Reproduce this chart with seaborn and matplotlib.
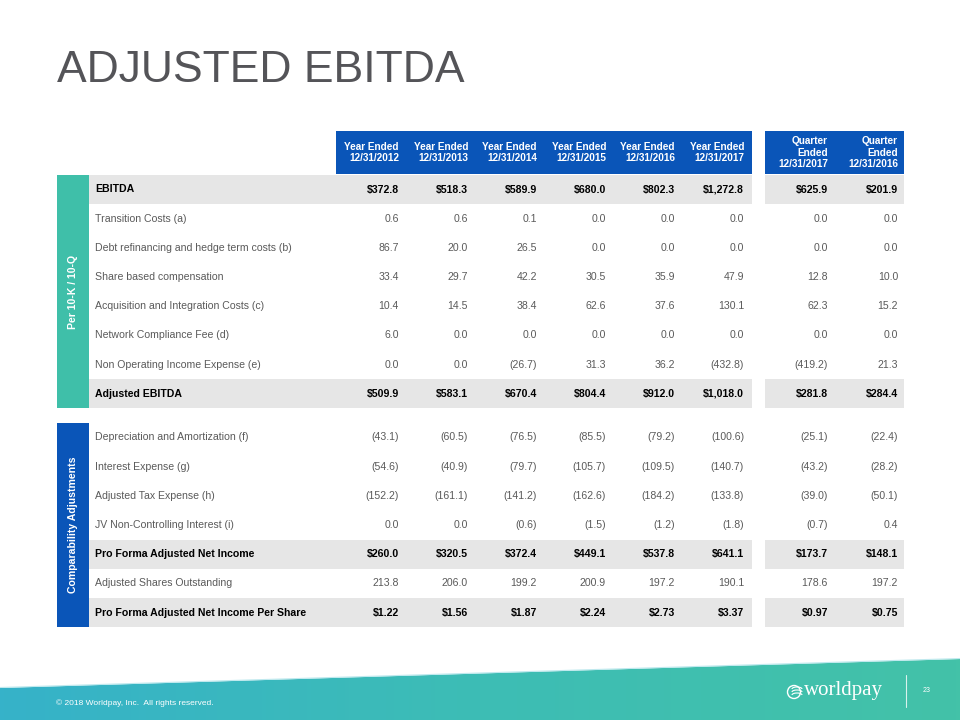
import numpy as np
import matplotlib.pyplot as plt
import seaborn as sns
from matplotlib.patches import Rectangle, Polygon, Circle, Arc

sns.set_style("white")
plt.rcParams['font.family'] = ['Liberation Sans', 'DejaVu Sans']

# --- data ---
col_headers = ["Year Ended\n12/31/2012", "Year Ended\n12/31/2013", "Year Ended\n12/31/2014",
               "Year Ended\n12/31/2015", "Year Ended\n12/31/2016", "Year Ended\n12/31/2017",
               "Quarter\nEnded\n12/31/2017", "Quarter\nEnded\n12/31/2016"]

top_labels = ["EBITDA", "Transition Costs (a)", "Debt refinancing and hedge term costs (b)",
              "Share based compensation", "Acquisition and Integration Costs (c)",
              "Network Compliance Fee (d)", "Non Operating Income Expense (e)", "Adjusted EBITDA"]
ebitda = [372.8, 518.3, 589.9, 680.0, 802.3, 1272.8, 625.9, 201.9]
transition = [0.6, 0.6, 0.1, 0.0, 0.0, 0.0, 0.0, 0.0]
debt_refi = [86.7, 20.0, 26.5, 0.0, 0.0, 0.0, 0.0, 0.0]
share_comp = [33.4, 29.7, 42.2, 30.5, 35.9, 47.9, 12.8, 10.0]
acquisition = [10.4, 14.5, 38.4, 62.6, 37.6, 130.1, 62.3, 15.2]
network_fee = [6.0, 0.0, 0.0, 0.0, 0.0, 0.0, 0.0, 0.0]
non_operating = [0.0, 0.0, -26.7, 31.3, 36.2, -432.8, -419.2, 21.3]
adj_ebitda = [509.9, 583.1, 670.4, 804.4, 912.0, 1018.0, 281.8, 284.4]

bottom_labels = ["Depreciation and Amortization (f)", "Interest Expense (g)",
                 "Adjusted Tax Expense (h)", "JV Non-Controlling Interest (i)",
                 "Pro Forma Adjusted Net Income", "Adjusted Shares Outstanding",
                 "Pro Forma Adjusted Net Income Per Share"]
depreciation = [-43.1, -60.5, -76.5, -85.5, -79.2, -100.6, -25.1, -22.4]
interest = [-54.6, -40.9, -79.7, -105.7, -109.5, -140.7, -43.2, -28.2]
tax = [-152.2, -161.1, -141.2, -162.6, -184.2, -133.8, -39.0, -50.1]
jv_interest = [0.0, 0.0, -0.6, -1.5, -1.2, -1.8, -0.7, 0.4]
pro_forma_ni = [260.0, 320.5, 372.4, 449.1, 537.8, 641.1, 173.7, 148.1]
shares_out = [213.8, 206.0, 199.2, 200.9, 197.2, 190.1, 178.6, 197.2]
ni_per_share = [1.22, 1.56, 1.87, 2.24, 2.73, 3.37, 0.97, 0.75]

top_rows = [ebitda, transition, debt_refi, share_comp, acquisition, network_fee, non_operating, adj_ebitda]
bottom_rows = [depreciation, interest, tax, jv_interest, pro_forma_ni, shares_out, ni_per_share]
top_bold = [True, False, False, False, False, False, False, True]
bottom_bold = [False, False, False, False, True, False, True]

# --- styling ---
BLUE = "#0a55b8"
TEAL = "#3fbfa9"
GREY_BAND = "#e6e6e6"
LABEL_GREY = "#5a5a5a"
col_x = [399, 468, 537, 606, 675, 744, 828, 898]
bands = [(89, 752), (765, 904)]
row_h = 29.2
fs = 7.6


def fmt(v, bold, decimals=1):
    s = f"{abs(v):,.{decimals}f}"
    if bold:
        s = "$" + s
    return f"({s})" if v < 0 else s


fig = plt.figure(figsize=(9.6, 7.2), dpi=100)
ax = fig.add_axes([0, 0, 1, 1])
ax.set_xlim(0, 960)
ax.set_ylim(720, 0)
ax.axis("off")

ax.text(57, 82, "ADJUSTED EBITDA", fontsize=32, color="#545458", va="baseline", ha="left")

# header blocks
for x0, x1 in bands:
    ax.add_patch(Rectangle((x0 if x0 != 89 else 336, 131), x1 - (x0 if x0 != 89 else 336), 43,
                           color=BLUE, lw=0))
for x, h in zip(col_x, col_headers):
    ax.text(x, 152.5, h, ha="right", va="center", color="white", fontsize=7.2,
            fontweight="bold", linespacing=1.2, multialignment="right")


def draw_section(labels, rows, bolds, y0, per_share_idx=None):
    for i, (lab, vals, b) in enumerate(zip(labels, rows, bolds)):
        y = y0 + i * row_h
        if b:
            for x0, x1 in bands:
                ax.add_patch(Rectangle((x0, y - 14.5), x1 - x0, 29, color=GREY_BAND, lw=0))
        color = "black" if b else LABEL_GREY
        weight = "bold" if b else "normal"
        ax.text(95, y, lab, ha="left", va="center", fontsize=fs, color=color, fontweight=weight)
        dec = 2 if i == per_share_idx else 1
        for x, v in zip(col_x, vals):
            ax.text(x, y, fmt(v, b, dec), ha="right", va="center", fontsize=fs,
                    color=color, fontweight=weight)


draw_section(top_labels, top_rows, top_bold, 189.5)
draw_section(bottom_labels, bottom_rows, bottom_bold, 437.5, per_share_idx=6)

# side bars
ax.add_patch(Rectangle((57, 175), 32, 233, color=TEAL, lw=0))
ax.text(73, 291.5, "Per 10-K / 10-Q", rotation=90, ha="center", va="center",
        color="white", fontsize=7.6, fontweight="bold")
ax.add_patch(Rectangle((57, 423), 32, 204, color=BLUE, lw=0))
ax.text(73, 525, "Comparability Adjustments", rotation=90, ha="center", va="center",
        color="white", fontsize=7.6, fontweight="bold")

# footer band with gradient
grad = np.linspace(0, 1, 256).reshape(1, -1)
cmap = sns.blend_palette(["#36b2c9", "#3dbdb5", "#43c2a8"], as_cmap=True)
img = ax.imshow(grad, extent=(0, 960, 720, 655), cmap=cmap, aspect="auto", zorder=1)
foot = Polygon([[0, 688], [960, 659], [960, 720], [0, 720]], closed=True,
               facecolor="none", edgecolor="none")
ax.add_patch(foot)
img.set_clip_path(foot)
ax.plot([0, 960], [687.5, 658.5], color="#bfe9ee", lw=0.8, zorder=2)
ax.set_xlim(0, 960)
ax.set_ylim(720, 0)

ax.text(56, 703, "\u00a9 2018 Worldpay, Inc.  All rights reserved.", ha="left", va="center",
        color="white", fontsize=6, zorder=3)
ax.text(804, 691, "worldpay", ha="left", va="center", color="white", fontsize=15,
        family="Liberation Serif", zorder=3)
ax.add_patch(Circle((794, 692), 6.5, facecolor="none", edgecolor="white", lw=1.0, zorder=3))
for dy in (-3, 0, 3):
    ax.add_patch(Arc((797, 692 + dy), 10, 4, theta1=180, theta2=360, color="white", lw=0.8, zorder=3))
ax.plot([906, 906], [675, 707], color="white", lw=0.8, alpha=0.8, zorder=3)
ax.text(927, 691, "23", ha="center", va="center", color="white", fontsize=5, zorder=3)

fig.savefig("out.png", dpi=100)
